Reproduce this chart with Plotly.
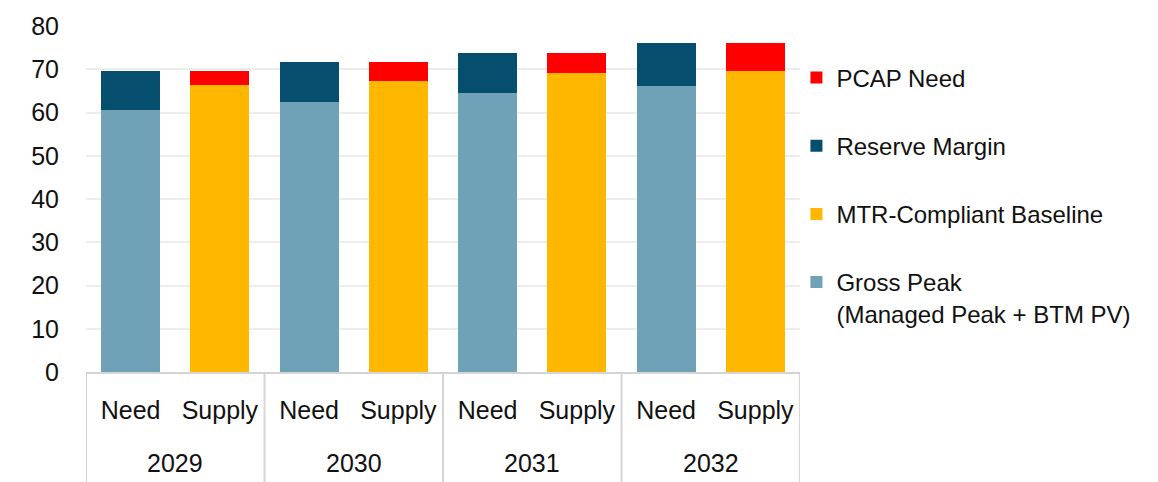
import plotly.graph_objects as go

# Capacity need vs. supply by year (GW)
years = ["2029", "2030", "2031", "2032"]
kinds = ["Need", "Supply"]

gross_peak = [60.6, 62.5, 64.4, 66.2]      # Need: Managed Peak + BTM PV
reserve_margin = [8.9, 9.2, 9.4, 9.8]      # Need: reserve on top of peak
mtr_baseline = [66.4, 67.3, 69.2, 69.5]    # Supply: MTR-compliant baseline
pcap_need = [3.1, 4.4, 4.6, 6.5]           # Supply: remaining PCAP need

# One slot per (year, kind); slots are positioned by index on a linear axis
slot_labels = [k for _ in years for k in kinds]
slots = list(range(len(slot_labels)))
need_slots = slots[0::2]
supply_slots = slots[1::2]

FONT = "Liberation Sans, Arial, sans-serif"

fig = go.Figure()
# (name, slots, values, colour, legend rank) - added bottom-up for stacking
series = [
    ("Gross Peak<br>(Managed Peak + BTM PV)", need_slots, gross_peak, "#6FA1B7", 4),
    ("MTR-Compliant Baseline", supply_slots, mtr_baseline, "#FFB700", 3),
    ("Reserve Margin", need_slots, reserve_margin, "#054E6E", 2),
    ("PCAP Need", supply_slots, pcap_need, "#FF0000", 1),
]
for name, xs, vals, color, rank in series:
    fig.add_trace(go.Bar(
        x=xs, y=vals, name=name, width=0.66,
        legendgroup=name, legendrank=rank,
        marker=dict(color=color, line=dict(width=0)),
    ))

# Year labels centred under each Need/Supply pair
for i, yr in enumerate(years):
    fig.add_annotation(
        x=(need_slots[i] + supply_slots[i]) / 2, xref="x",
        y=-0.263, yref="paper", yanchor="middle",
        text=yr, showarrow=False, font=dict(size=25, family=FONT, color="#111111"),
    )

# Group boxes below the axis
for b in [-0.5] + [s + 0.5 for s in supply_slots]:
    fig.add_shape(
        type="line", xref="x", yref="paper",
        x0=b, x1=b, y0=0, y1=-0.32,
        line=dict(color="#D4D4D4", width=2),
    )

fig.update_layout(
    barmode="stack",
    width=1158, height=482,
    margin=dict(l=86, r=358, t=22, b=110),
    plot_bgcolor="white", paper_bgcolor="white",
    font=dict(family=FONT, size=24, color="#111111"),
    legend=dict(
        x=0.995, xanchor="left", y=0.915, yanchor="top",
        traceorder="grouped", tracegroupgap=34,
        valign="top",
        font=dict(size=24),
        bgcolor="rgba(0,0,0,0)",
    ),
    showlegend=True,
)
fig.update_yaxes(
    range=[0, 80], dtick=10, showgrid=True, gridcolor="#EDEDED", gridwidth=2,
    zeroline=False, showline=False, ticks="", tickfont=dict(size=25),
    ticklabelstandoff=26,
)
fig.update_xaxes(
    range=[-0.5, len(slots) - 0.5],
    tickmode="array", tickvals=slots, ticktext=slot_labels,
    showline=True, linecolor="#D4D4D4", linewidth=2,
    ticks="", tickfont=dict(size=25), showgrid=False, zeroline=False,
    ticklabelstandoff=15,
)

fig.write_html("out.html")
